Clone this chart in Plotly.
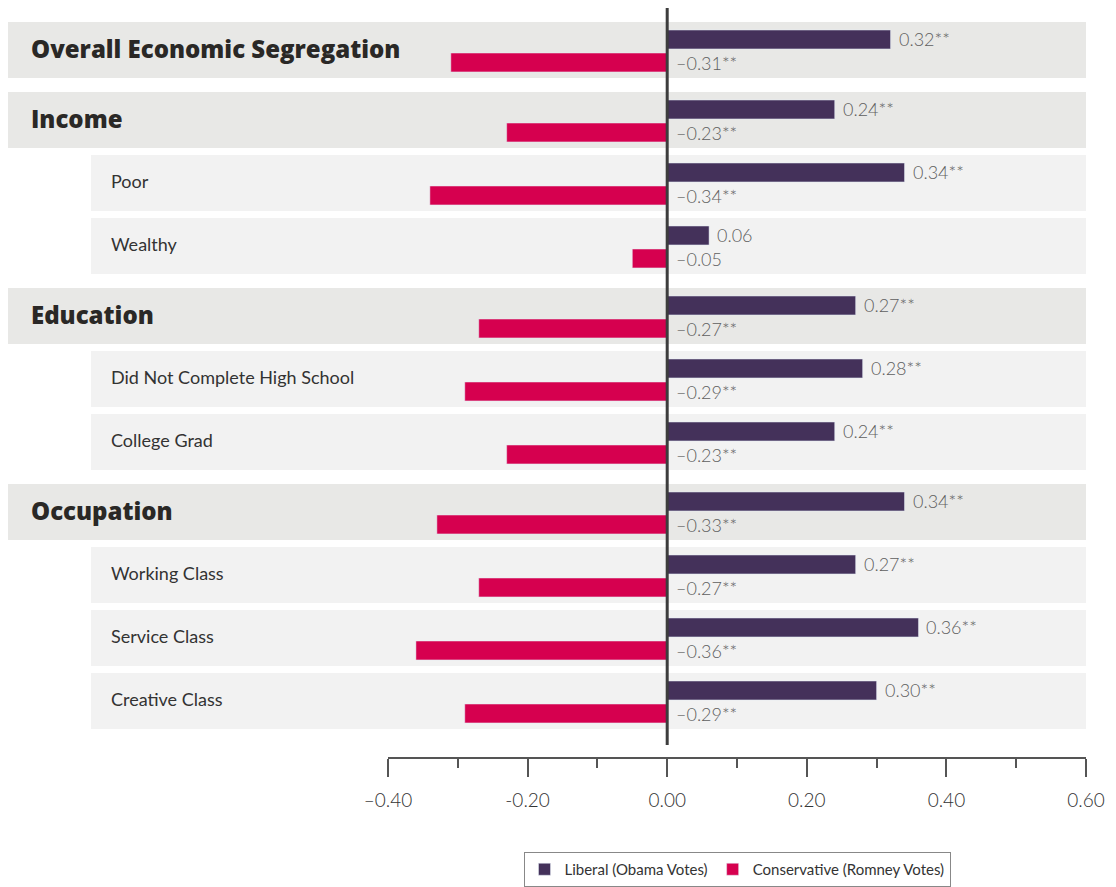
import plotly.graph_objects as go

# data
categories = ["Overall Economic Segregation", "Income", "Poor", "Wealthy",
              "Education", "Did Not Complete High School", "College Grad",
              "Occupation", "Working Class", "Service Class", "Creative Class"]
is_header = [True, True, False, False, True, False, False, True, False, False, False]
liberal = [0.32, 0.24, 0.34, 0.06, 0.27, 0.28, 0.24, 0.34, 0.27, 0.36, 0.30]
conservative = [-0.31, -0.23, -0.34, -0.05, -0.27, -0.29, -0.23, -0.33, -0.27, -0.36, -0.29]
significant = [True, True, True, False, True, True, True, True, True, True, True]
tick_vals = [-0.4, -0.2, 0.0, 0.2, 0.4, 0.6]
tick_text = ["–0.40", "-0.20", "0.00", "0.20", "0.40", "0.60"]

LIB_COLOR = "#44315a"
CON_COLOR = "#d6004f"
FONT = "Lato"

# row positions: one unit per row, a small extra gap before each header group
gap = 7 / 63
pos = []
grp = -1
for i, h in enumerate(is_header):
    if h:
        grp += 1
    pos.append(i + grp * gap)


def fmt(v, sig):
    s = f"{v:.2f}".replace("-", "–")
    return s + ("**" if sig else "")


fig = go.Figure()
fig.add_trace(go.Bar(y=pos, x=liberal, orientation="h", name="Liberal (Obama Votes)",
                     marker_color=LIB_COLOR, width=0.30, offset=-0.317, hoverinfo="x"))
fig.add_trace(go.Bar(y=pos, x=conservative, orientation="h", name="Conservative (Romney Votes)",
                     marker_color=CON_COLOR, width=0.30, offset=0.048, hoverinfo="x"))

shapes = []
annotations = []
for p, name, h in zip(pos, categories, is_header):
    x0 = (7 - 388) / 698 if h else (91 - 388) / 698
    shapes.append(dict(type="rect", xref="paper", yref="y", x0=x0, x1=1,
                       y0=p - 0.444, y1=p + 0.444, layer="below", line_width=0,
                       fillcolor="#e8e8e6" if h else "#f2f2f2"))
    annotations.append(dict(xref="paper", yref="y", x=(29 - 388) / 698 if h else (109 - 388) / 698,
                            y=p - 0.03, text=name, showarrow=False, xanchor="left",
                            font=dict(family="Open Sans" if h else FONT, size=24 if h else 18,
                                      color="#2a2826" if h else "#333333",
                                      weight=800 if h else 400)))

for p, v, c, s in zip(pos, liberal, conservative, significant):
    annotations.append(dict(x=v, y=p - 0.167, text=fmt(v, s), showarrow=False, xanchor="left",
                            xshift=6, font=dict(family=FONT, size=18, color="#5f5f5f", weight=300)))
    annotations.append(dict(x=0, y=p + 0.2, text=fmt(c, s), showarrow=False, xanchor="left",
                            xshift=7, font=dict(family=FONT, size=18, color="#5f5f5f", weight=300)))

# zero line
shapes.append(dict(type="line", xref="x", yref="paper", x0=0, x1=0, y0=0.016, y1=1,
                   line=dict(color="#3d3d3d", width=3), layer="above"))

# the page body adds an 8px offset, so margins are set 8px smaller on top/left
fig.update_layout(
    width=1108, height=879,
    margin=dict(l=380, r=30, t=0, b=130),
    paper_bgcolor="white", plot_bgcolor="rgba(0,0,0,0)",
    barmode="overlay", showlegend=True,
    shapes=shapes, annotations=annotations,
    xaxis=dict(range=[-0.4, 0.6], tickvals=tick_vals, ticktext=tick_text,
               showgrid=False, zeroline=False, showline=True, linecolor="#555555", linewidth=2,
               ticks="outside", ticklen=18, tickwidth=2, tickcolor="#555555",
               minor=dict(dtick=0.1, ticks="outside", ticklen=9, tickwidth=2, tickcolor="#555555"),
               tickfont=dict(family=FONT, size=19, color="#333333", weight=300),
               ticklabelstandoff=7),
    yaxis=dict(range=[(757 - 50) / 63, (8 - 50) / 63], showgrid=False, zeroline=False,
               showticklabels=False, showline=False),
    legend=dict(orientation="h", x=0.5, xanchor="center", y=-0.127, yanchor="top",
                bordercolor="#888888", borderwidth=1,
                font=dict(family=FONT, size=15, color="#333333"), traceorder="normal"),
)

fig.write_html("out.html")
